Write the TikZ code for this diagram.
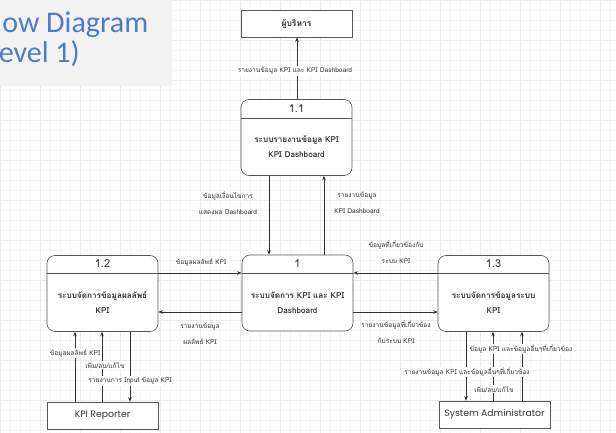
\documentclass[tikz,border=0pt]{standalone}
\usepackage{fontspec}
\setmainfont{Loma}[Script=Thai]
\newfontfamily\titlefont{Carlito}
\newfontfamily\entfont{Poppins}
\usetikzlibrary{arrows.meta}
\definecolor{titleblue}{HTML}{4F7BC8}
\definecolor{titlegray}{HTML}{F2F2F2}
\definecolor{ink}{HTML}{333333}
\definecolor{edge}{HTML}{555555}
\tikzset{
  proc/.style={draw=edge, line width=0.6pt, rounded corners=8pt, fill=white,
    minimum width=111pt, minimum height=76pt, inner sep=0pt},
  entity/.style={draw=edge, line width=0.6pt, fill=white,
    minimum width=111pt, minimum height=27pt, inner sep=0pt},
  pnum/.style={font=\fontsize{11}{12}\selectfont, text=ink, inner sep=0pt},
  ptext/.style={font=\bfseries\fontsize{8.2}{15}\selectfont, text=ink, align=center, inner sep=0pt},
  lbl/.style={font=\fontsize{6.6}{16}\selectfont, text=ink, align=center, fill=white, inner sep=1pt},
  enttext/.style={font=\entfont\fontsize{9.3}{11}\selectfont, text=ink},
  arr/.style={draw=ink, line width=0.55pt, -{Stealth[length=4.5pt,width=3.6pt]}},
}
\begin{document}
\begin{tikzpicture}[x=1pt,y=-1pt]
\useasboundingbox (0,0) rectangle (616,433);
% background grid
\fill[white] (0,0) rectangle (616,433);
\draw[gray!8, line width=0.4pt] (0,0) grid[step=10pt] (616,433);
\draw[gray!16, line width=0.5pt] (0,0) grid[step=40pt] (616,433);

% title panel
\fill[titlegray] (0,0) rectangle (172,86);
\node[font=\titlefont\fontsize{30}{31}\selectfont, text=titleblue, anchor=base east, inner sep=0pt] (ttl1) at (148.5,33) {Data Flow Diagram};
\node[font=\titlefont\fontsize{30}{31}\selectfont, text=titleblue, anchor=base east, inner sep=0pt] (ttl2) at (80,63) {(Level 1)};

% external entities
\node[entity] (exec) at (296.5,23.5) {};
\node[font=\bfseries\fontsize{8.5}{10}\selectfont, text=ink] (execT) at (exec) {ผู้บริหาร};
\node[entity] (rep) at (102.5,415.5) {};
\node[enttext] (repT) at (rep) {KPI Reporter};
\node[entity] (adm) at (494.5,414.5) {};
\node[enttext] (admT) at (adm) {System Administrator};

% processes: rounded box, divider, number, name
\node[proc] (p11) at (296.5,137.5) {};
\draw[edge, line width=0.6pt] (p11.west |- 0,118) -- (p11.east |- 0,118);
\node[pnum] (p11n) at (296.5,109) {1.1};
\node[ptext] (p11t) at (296.5,147) {ระบบรายงานข้อมูล KPI\\KPI Dashboard};

\node[proc] (p1) at (297.5,293) {};
\draw[edge, line width=0.6pt] (p1.west |- 0,273) -- (p1.east |- 0,273);
\node[pnum] (p1n) at (297.5,264) {1};
\node[ptext] (p1t) at (297.5,302.5) {ระบบจัดการ KPI และ KPI\\Dashboard};

\node[proc] (p12) at (102.5,293.5) {};
\draw[edge, line width=0.6pt] (p12.west |- 0,273) -- (p12.east |- 0,273);
\node[pnum] (p12n) at (102.5,264) {1.2};
\node[ptext] (p12t) at (102.5,302.5) {ระบบจัดการข้อมูลผลลัพธ์\\KPI};

\node[proc] (p13) at (493.5,293.5) {};
\draw[edge, line width=0.6pt] (p13.west |- 0,273) -- (p13.east |- 0,273);
\node[pnum] (p13n) at (493.5,264) {1.3};
\node[ptext] (p13t) at (493.5,302.5) {ระบบจัดการข้อมูลระบบ\\KPI};

% 1.1 -> executives
\draw[arr] (p11.north -| 297,0) -- (exec.south -| 297,0);
\node[lbl] (l1) at (295,71) {รายงานข้อมูล KPI และ KPI Dashboard};

% 1.1 <-> 1
\draw[arr] (p11.south -| 269,0) -- (p1.north -| 269,0);
\draw[arr] (p1.north -| 324,0) -- (p11.south -| 324,0);
\node[lbl, fill=none] (l2) at (228,203.5) {ข้อมูลเงื่อนไขการ\\แสดงผล Dashboard};
\node[lbl, fill=none] (l3) at (357,203) {รายงานข้อมูล\\KPI Dashboard};

% 1.2 <-> 1
\draw[arr] (p12.east |- 0,273) -- (p1.west |- 0,273);
\draw[arr] (p1.west |- 0,312) -- (p12.east |- 0,312);
\node[lbl, fill=none] (l4) at (201,262) {ข้อมูลผลลัพธ์ KPI};
\node[lbl, fill=none] (l5) at (200,334) {รายงานข้อมูล\\ผลลัพธ์ KPI};

% 1.3 <-> 1
\draw[arr] (p13.west |- 0,273) -- (p1.east |- 0,273);
\draw[arr] (p1.east |- 0,312) -- (p13.west |- 0,312);
\node[lbl, fill=none] (l6) at (396,252) {ข้อมูลที่เกี่ยวข้องกับ\\ระบบ KPI};
\node[lbl, fill=none] (l7) at (396,332.5) {รายงานข้อมูลที่เกี่ยวข้อง\\กับระบบ KPI};

% KPI Reporter <-> 1.2
\draw[arr] (rep.north -| 75,0) -- (p12.south -| 75,0);
\draw[arr] (rep.north -| 102,0) -- (p12.south -| 102,0);
\draw[arr] (p12.south -| 130,0) -- (rep.north -| 130,0);
\node[lbl] (l8) at (75,353) {ข้อมูลผลลัพธ์ KPI};
\node[lbl] (l9) at (105,365) {เพิ่ม/ลบ/แก้ไข};
\node[lbl] (l10) at (130,381) {รายงานการ Input ข้อมูล KPI};

% System Administrator <-> 1.3
\draw[arr] (p13.south -| 466,0) -- (adm.north -| 466,0);
\draw[arr] (adm.north -| 493,0) -- (p13.south -| 493,0);
\draw[arr] (adm.north -| 522,0) -- (p13.south -| 522,0);
\node[lbl] (l11) at (521,349) {ข้อมูล KPI และข้อมูลอื่นๆที่เกี่ยวข้อง};
\node[lbl] (l12) at (467,372) {รายงานข้อมูล KPI และข้อมูลอื่นๆที่เกี่ยวข้อง};
\node[lbl] (l13) at (494,389) {เพิ่ม/ลบ/แก้ไข};
\end{tikzpicture}
\end{document}
